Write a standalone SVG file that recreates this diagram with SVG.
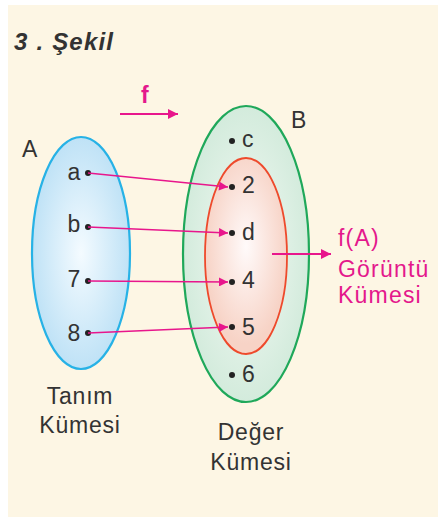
<svg xmlns="http://www.w3.org/2000/svg" width="438" height="518" viewBox="0 0 438 518">
  <defs>
    <radialGradient id="gA" cx="0.5" cy="0.5" r="0.5">
      <stop offset="0" stop-color="#f4fbff"/>
      <stop offset="1" stop-color="#bfe2f6"/>
    </radialGradient>
    <radialGradient id="gB" cx="0.5" cy="0.5" r="0.5">
      <stop offset="0" stop-color="#f4faf5"/>
      <stop offset="1" stop-color="#d3ebdc"/>
    </radialGradient>
    <radialGradient id="gF" cx="0.5" cy="0.45" r="0.5">
      <stop offset="0" stop-color="#fffafa"/>
      <stop offset="1" stop-color="#f7d3c6"/>
    </radialGradient>
    <marker id="arr" viewBox="0 0 10 10" refX="10" refY="5" markerWidth="11" markerHeight="9" markerUnits="userSpaceOnUse" orient="auto">
      <path d="M0,0 L10,5 L0,10 z" fill="#e8168c"/>
    </marker>
    <marker id="arrBig" viewBox="0 0 10 10" refX="10" refY="5" markerWidth="13" markerHeight="10" markerUnits="userSpaceOnUse" orient="auto">
      <path d="M0,0 L10,5 L0,10 z" fill="#e8168c"/>
    </marker>
  </defs>
  <style>
    .t { font-family: "Liberation Sans", Arial, sans-serif; font-size: 23px; fill: #333; letter-spacing: 0.8px; }
    .m { font-family: "Liberation Sans", Arial, sans-serif; font-size: 23px; fill: #e4188c; letter-spacing: 1.2px; }
    .dot { fill: #222; }
    .link { stroke: #e8168c; stroke-width: 1.6; fill: none; marker-end: url(#arr); }
  </style>

  <!-- page background -->
  <rect x="8" y="5" width="430" height="512" fill="#fdf6e4"/>

  <!-- heading -->
  <text x="14" y="50" class="t" style="font-weight:bold;font-style:italic;font-size:24px;letter-spacing:1.2px">3 . Şekil</text>

  <!-- function label f -->
  <g id="f-label">
    <text x="141" y="103" class="m" style="font-weight:bold;font-size:23px;letter-spacing:0">f</text>
    <line x1="120" y1="114" x2="178" y2="114" stroke="#e8168c" stroke-width="1.8" marker-end="url(#arrBig)"/>
  </g>

  <!-- set A (domain) -->
  <g id="setA">
    <ellipse cx="81" cy="253" rx="49" ry="116" fill="url(#gA)" stroke="#27b2e6" stroke-width="2.2"/>
    <text x="22" y="157" class="t">A</text>
    <text x="81" y="180" class="t" text-anchor="end">a</text>
    <text x="81" y="232" class="t" text-anchor="end">b</text>
    <text x="81" y="287" class="t" text-anchor="end">7</text>
    <text x="81" y="341" class="t" text-anchor="end">8</text>
    <circle cx="88" cy="173" r="3" class="dot"/>
    <circle cx="88" cy="227" r="3" class="dot"/>
    <circle cx="88" cy="281" r="3" class="dot"/>
    <circle cx="88" cy="333" r="3" class="dot"/>
    <text x="80" y="404" class="t" text-anchor="middle">Tanım</text>
    <text x="80" y="433" class="t" text-anchor="middle">Kümesi</text>
  </g>

  <!-- set B (codomain) -->
  <g id="setB">
    <ellipse cx="246" cy="254" rx="63" ry="148" fill="url(#gB)" stroke="#1fa85a" stroke-width="2.2"/>
    <text x="291" y="128" class="t">B</text>
    <text x="251" y="440" class="t" text-anchor="middle">Değer</text>
    <text x="251" y="470" class="t" text-anchor="middle">Kümesi</text>
  </g>

  <!-- image set f(A) -->
  <g id="imageSet">
    <ellipse cx="246" cy="256" rx="41" ry="98" fill="url(#gF)" stroke="#ee4a2c" stroke-width="1.8"/>
  </g>

  <!-- elements of B -->
  <g id="elementsB">
    <circle cx="232" cy="141" r="3" class="dot"/>
    <text x="242" y="147" class="t">c</text>
    <circle cx="232" cy="187" r="3" class="dot"/>
    <text x="242" y="193" class="t">2</text>
    <circle cx="232" cy="233" r="3" class="dot"/>
    <text x="242" y="240" class="t">d</text>
    <circle cx="232" cy="282" r="3" class="dot"/>
    <text x="242" y="288" class="t">4</text>
    <circle cx="232" cy="327" r="3" class="dot"/>
    <text x="242" y="335" class="t">5</text>
    <circle cx="232" cy="375" r="3" class="dot"/>
    <text x="242" y="382" class="t">6</text>
  </g>

  <!-- mapping connectors -->
  <g id="connectors">
    <line x1="88" y1="173" x2="228" y2="187" class="link"/>
    <line x1="88" y1="227" x2="228" y2="233" class="link"/>
    <line x1="88" y1="281" x2="228" y2="282" class="link"/>
    <line x1="88" y1="333" x2="228" y2="327" class="link"/>
    <line x1="272" y1="254" x2="331" y2="254" stroke="#e8168c" stroke-width="1.8" marker-end="url(#arrBig)"/>
  </g>

  <!-- image label -->
  <g id="imageLabel">
    <text x="338" y="246" class="m">f(A)</text>
    <text x="338" y="277" class="m">Görüntü</text>
    <text x="338" y="303" class="m">Kümesi</text>
  </g>
</svg>
